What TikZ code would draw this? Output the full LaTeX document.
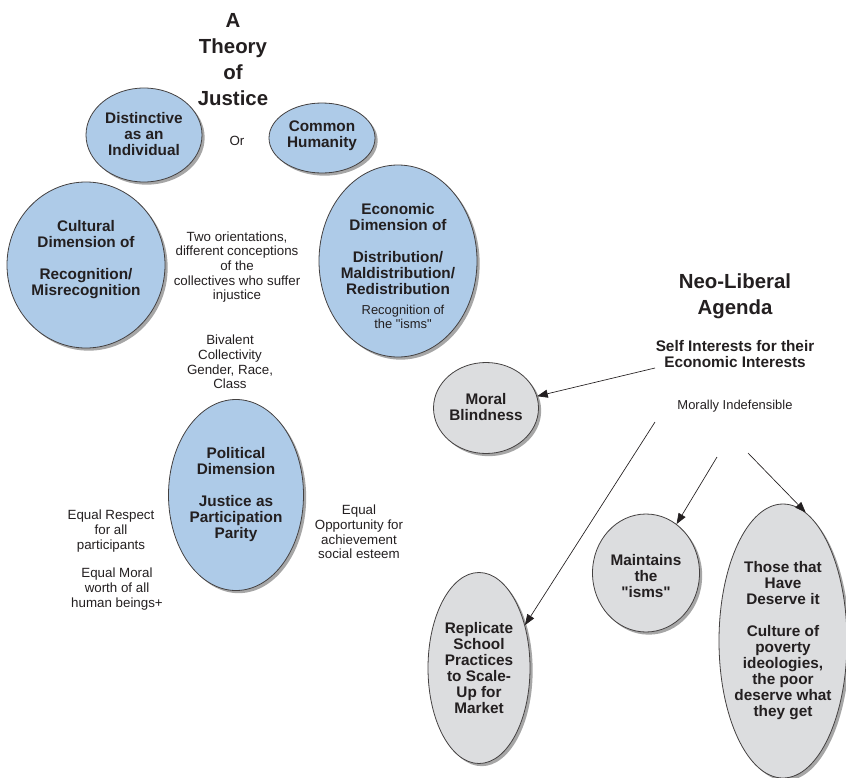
\documentclass[tikz,border=0pt]{standalone}
\usepackage{fontspec}
\setmainfont{Liberation Sans}
\usepackage{tikz}
\usetikzlibrary{arrows.meta, positioning, shapes.geometric, shadows}
\definecolor{ellblue}{HTML}{AECBE8}
\definecolor{ellgray}{HTML}{DCDDDF}
\definecolor{inkdark}{HTML}{231F20}

\begin{document}
\begin{tikzpicture}[
    x=0.75pt, y=-0.75pt,
    font=\fontsize{10}{11}\selectfont,
    concept/.style={ellipse, draw=inkdark!85, fill=ellblue, line width=0.6pt, inner sep=0pt,
        drop shadow={shadow xshift=2pt, shadow yshift=-2pt, opacity=0.35, fill=black}},
    agenda/.style={concept, fill=ellgray},
    dims/.style 2 args={minimum width=#1*0.75pt, minimum height=#2*0.75pt},
    ellbold/.style={font=\fontsize{11.5}{12}\selectfont\bfseries, align=center, inner sep=0pt, text=inkdark},
    heading/.style={font=\fontsize{15.3}{19.5}\selectfont\bfseries, align=center, inner sep=0pt, text=inkdark},
    remark/.style={align=center, inner sep=0pt, text=inkdark},
    remarksm/.style={font=\fontsize{9.7}{10.5}\selectfont, align=center, inner sep=0pt, text=inkdark},
    arrow/.style={-{Triangle[length=8pt, width=6pt]}, line width=0.5pt, draw=inkdark}
]
\useasboundingbox (0,0) rectangle (846,778);

% Left side: theory of justice
\node[heading] (title) at (233,60) {A\\Theory\\of\\Justice};
\node[concept, dims={116}{94}] (distinct) at (144,135) {};
\node[ellbold] (distincttxt) at (144,134) {Distinctive\\as an\\Individual};
\node[remark] (or) at (237,141) {Or};
\node[concept, dims={106}{70}] (common) at (322,138) {};
\node[ellbold] (commontxt) at (322,136) {Common\\Humanity};

\node[concept, dims={158}{166}] (cultural) at (86,265) {};
\node[ellbold] (culturaltxt) at (86,260) {Cultural\\Dimension of\\[12pt]Recognition/\\Misrecognition};
\node[concept, dims={158}{192}] (econ) at (398,261) {};
\node[ellbold] (econtxt) at (398,249) {Economic\\Dimension of\\[12pt]Distribution/\\Maldistribution/\\Redistribution};
\node[remarksm] (recog) at (403,317) {Recognition of\\the \textquotedbl isms\textquotedbl};

\node[remark] (orient) at (237,267) {Two orientations,\\different conceptions\\of the\\collectives who suffer\\injustice};
\node[remark] (bivalent) at (230,362) {Bivalent\\Collectivity\\Gender, Race,\\Class};

\node[concept, dims={135}{191}] (political) at (236,495) {};
\node[ellbold] (politicaltxt) at (236,495) {Political\\Dimension\\[12pt]Justice as\\Participation\\Parity};
\node[remark] (respect) at (111,531) {Equal Respect\\for all\\participants};
\node[remark] (moralworth) at (117,589) {Equal Moral\\worth of all\\human beings+};
\node[remark] (opportunity) at (359,532) {Equal\\Opportunity for\\achievement\\social esteem};

% Right side: neo-liberal agenda
\node[heading] (neolib) at (735,296) {Neo-Liberal\\Agenda};
\node[ellbold] (selfint) at (735,354) {Self Interests for their\\Economic Interests};
\node[remarksm] (indef) at (735,406) {Morally Indefensible};

\node[agenda, dims={105}{91}] (blind) at (486,408) {};
\node[ellbold] (blindtxt) at (486,407) {Moral\\Blindness};
\node[agenda, dims={107}{118}] (isms) at (646,573) {};
\node[ellbold] (ismstxt) at (646,576) {Maintains\\the\\\textquotedbl isms\textquotedbl};
\node[agenda, dims={102}{191}] (replicate) at (479,668) {};
\node[ellbold] (replicatetxt) at (479,668) {Replicate\\School\\Practices\\to Scale-\\Up for\\Market};
\node[agenda, dims={128}{274}] (deserve) at (783,641) {};
\node[ellbold] (deservetxt) at (783,641) {Those that\\Have\\Deserve it\\[12pt]Culture of\\poverty\\ideologies,\\the poor\\deserve what\\they get};

% Arrows
\coordinate (fromself) at (655,368);
\coordinate (fromindefa) at (655,422);
\coordinate (fromindefb) at (717,457);
\coordinate (fromindefc) at (748,453);
\draw[arrow] (fromself) -- (blind.13);
\draw[arrow] (fromindefa) -- (replicate.43);
\draw[arrow] (fromindefb) -- (isms.58);
\draw[arrow] (fromindefc) -- (deserve.80);

\end{tikzpicture}
\end{document}
